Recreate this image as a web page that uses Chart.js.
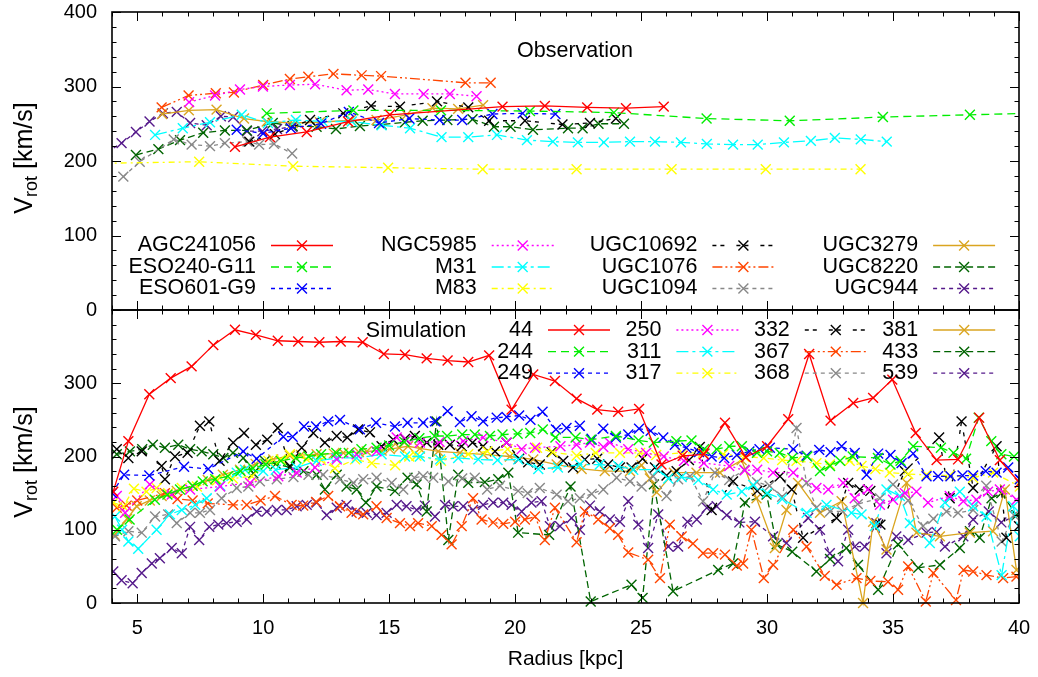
<!DOCTYPE html>
<html><head><meta charset="utf-8">
<script src="https://cdn.jsdelivr.net/npm/chart.js@4.4.1/dist/chart.umd.min.js"></script>
<style>
html,body{margin:0;padding:0;background:#fff;}
#wrap{position:relative;width:1038px;height:677px;background:#fff;}
canvas{position:absolute;left:0;top:0;}
</style></head><body>
<div id="wrap"><canvas id="cTop" width="1038" height="677"></canvas><canvas id="cBot" width="1038" height="677"></canvas></div>
<script>
// ---------- tick labels ----------
const xTicks = [5,10,15,20,25,30,35,40];
const yTicksTop = [0,100,200,300,400];
const yTicksBot = [0,100,200,300];

// ---------- legend labels ----------
const obsLabels = ['AGC241056','ESO240-G11','ESO601-G9','NGC5985','M31','M83','UGC10692','UGC1076','UGC1094','UGC3279','UGC8220','UGC944'];
const simLabels = ['44','244','249','250','311','317','332','367','368','381','433','539'];

// ---------- observation data [radius kpc, Vrot km/s] ----------
const obsAGC241056 = [[8.88,219],[10.27,232],[11.73,239],[13.37,253],[15.03,262],[19.5,273],[21.18,274],[22.86,272],[24.4,271],[25.9,273]];
const obsESO240G11 = [[10.14,264],[13.58,268],[17.06,268],[20.59,267],[23.92,265],[27.6,257],[30.9,254],[34.6,259],[38.05,262],[41.5,265]];
const obsESO601G9 = [[8.95,242],[10.0,237],[11.1,244],[12.3,250],[13.4,266],[14.6,251],[15.8,257],[17.0,255],[17.9,255],[19.1,263],[20.3,264],[21.6,263]];
const obsNGC5985 = [[7.06,279],[8.09,288],[9.08,296],[9.99,300],[11.06,302],[12.06,303],[13.31,295],[14.17,296],[15.23,290],[16.37,290],[17.41,290],[18.47,287]];
const obsM31 = [[5.71,235],[6.81,244],[7.89,252],[9.15,262],[10.19,251],[11.3,255],[12.37,253],[13.52,253],[14.7,248],[15.83,244],[17.08,232],[18.14,232],[19.28,235],[20.47,228],[21.5,226],[22.49,225],[23.52,225],[24.56,226],[25.55,226],[26.58,225],[27.61,223],[28.65,222],[29.63,222],[30.67,225],[31.74,227],[32.69,231],[33.72,229],[34.75,226]];
const obsM83 = [[3.71,197],[7.46,199],[11.19,193],[14.96,191],[18.71,189],[22.44,189],[26.21,189],[29.95,189],[33.71,189]];
const obsUGC10692 = [[9.45,226],[10.47,236],[11.86,255],[13.18,264],[14.28,274],[15.43,273],[16.9,280],[18.14,272],[18.97,254],[20.39,254],[21.88,249],[22.97,251],[24.0,257]];
const obsUGC1076 = [[5.97,272],[7.04,288],[8.12,291],[8.84,292],[10.0,302],[11.06,310],[11.79,313],[12.79,317],[13.91,315],[14.68,314],[18.03,305],[19.03,305]];
const obsUGC1094 = [[4.45,179],[5.1,199],[6.45,229],[7.16,222],[7.89,220],[8.48,224],[9.38,226],[9.84,222],[10.43,223],[11.15,210]];
const obsUGC3279 = [[5.99,263],[7.05,268],[8.15,269],[9.24,257],[10.14,253],[11.17,251],[12.25,252],[13.48,255],[14.5,255],[15.69,262],[16.72,271],[17.74,270],[18.73,275]];
const obsUGC8220 = [[4.95,208],[5.84,216],[6.7,228],[7.62,238],[8.48,241],[9.35,241],[10.38,251],[11.17,247],[12.12,246],[12.89,243],[13.84,247],[14.7,249],[15.63,252],[16.33,254],[17.31,255],[18.31,256],[19.16,246],[19.82,246],[20.71,242],[22.1,244],[22.68,244],[23.31,250],[24.32,250]];
const obsUGC944 = [[3.8,212],[4.38,224],[4.95,239],[5.49,253],[6.02,264],[6.57,266],[7.1,251],[7.76,248],[8.32,260],[8.81,259],[9.36,240],[9.97,240],[10.55,243],[11.16,246]];

// ---------- simulation data [radius kpc, Vrot km/s] ----------
const sim44 = [[4.05,152],[4.65,221],[5.48,285],[6.33,307],[7.16,323],[8.02,352],[8.88,373],[9.71,366],[10.58,358],[11.39,357],[12.23,356],[13.08,357],[13.95,356],[14.79,340],[15.63,339],[16.49,334],[17.32,331],[18.14,329],[18.97,338],[19.86,264],[20.72,312],[21.58,303],[22.44,279],[23.26,264],[24.09,261],[24.92,265],[25.81,189],[26.65,201],[27.49,203],[28.33,246],[29.16,199],[30.0,214],[30.84,251],[31.67,340],[32.52,249],[33.42,273],[34.21,280],[34.97,305],[35.9,232],[36.73,195],[37.58,196],[38.42,253],[39.24,195],[40.03,164]];
const sim244 = [[4.2,100],[4.7,114],[5.7,141],[6.2,148],[6.7,155],[7.2,160],[7.6,166],[8.1,169],[8.6,173],[9.1,180],[9.6,184],[10.1,189],[10.7,194],[11.3,198],[11.8,200],[12.3,203],[12.9,205],[13.4,205],[13.9,210],[14.5,212],[15.0,215],[15.6,220],[16.2,225],[16.8,228],[17.3,228],[17.9,230],[18.4,230],[19.0,228],[19.5,230],[20.1,231],[20.6,232],[21.1,237],[21.6,226],[22.4,226],[23.0,223],[24.0,228],[24.9,222],[25.5,219],[26.4,221],[27.0,222],[27.5,210],[28.0,210],[28.5,214],[29.0,214],[29.6,205],[30.0,207],[30.5,205],[31.0,198],[31.6,200],[32.1,180],[32.5,187],[32.9,194],[33.4,200],[34.4,198],[34.9,189],[35.3,194],[35.8,214],[36.9,212],[37.4,205],[37.9,197],[38.4,253],[38.9,221],[39.3,203],[39.8,200]];
const sim249 = [[4.0,150],[4.48,175],[5.48,174],[6.86,186],[7.82,183],[9.21,207],[9.74,197],[10.8,227],[11.17,227],[11.62,241],[12.1,241],[12.58,248],[13.05,250],[13.84,237],[14.48,246],[15.23,241],[15.73,246],[16.35,246],[16.82,248],[17.32,262],[17.81,247],[18.27,255],[18.73,248],[19.27,253],[19.66,254],[20.16,256],[20.61,250],[21.09,261],[21.62,237],[22.04,239],[22.57,242],[23.04,223],[23.5,238],[24.0,226],[24.49,230],[24.92,238],[25.38,235],[25.88,226],[26.34,216],[26.8,212],[27.3,206],[27.8,200],[28.3,198],[28.8,202],[29.3,207],[29.7,210],[30.11,212],[31.04,210],[31.57,201],[32.07,209],[32.52,206],[32.96,214],[33.48,205],[33.95,175],[34.41,204],[34.9,202],[35.34,191],[35.8,204],[36.33,173],[36.79,173],[37.28,173],[37.76,174],[38.18,174],[38.68,180],[39.11,178],[39.57,185],[40.03,169]];
const sim250 = [[4.19,146],[4.52,123],[5.5,162],[6.37,148],[7.1,155],[8.29,159],[9.48,164],[10.6,173],[11.33,178],[12.06,185],[12.92,196],[13.71,203],[14.5,207],[15.3,226],[15.69,223],[16.22,219],[17.0,220],[17.94,221],[18.73,226],[19.66,219],[20.26,210],[20.79,212],[21.8,214],[22.44,216],[22.97,219],[23.5,213],[23.76,219],[24.49,210],[25.2,205],[25.9,200],[26.7,194],[27.49,191],[28.5,187],[29.12,181],[29.61,182],[30.24,178],[31.04,178],[31.96,157],[32.43,155],[33.02,164],[33.48,143],[34.0,155],[34.48,134],[35.0,141],[35.47,150],[35.93,152],[36.39,137],[37.25,146],[37.79,139],[38.31,141],[38.77,152],[39.24,155],[39.9,141]];
const sim311 = [[4.12,118],[4.4,100],[4.65,84],[5.04,74],[5.77,100],[6.3,121],[6.77,127],[7.3,134],[7.76,143],[8.3,160],[8.95,178],[9.28,182],[10.0,180],[10.5,182],[11.33,185],[12.12,194],[12.92,198],[13.71,198],[14.7,203],[15.63,200],[16.22,200],[17.02,196],[17.74,198],[18.54,196],[19.3,195],[20.12,196],[20.92,183],[21.7,185],[22.57,189],[23.36,189],[24.09,187],[24.69,182],[25.68,182],[26.08,170],[26.61,172],[27.27,168],[27.86,155],[28.4,148],[29.0,152],[29.45,161],[30.0,150],[30.6,142],[31.57,123],[32.36,134],[33.35,123],[33.75,121],[34.28,105],[34.74,155],[35.27,146],[35.67,109],[36.46,82],[37.06,137],[37.65,152],[38.18,132],[38.71,118],[39.31,38],[39.77,132],[40.03,91]];
const sim317 = [[4.05,137],[4.45,132],[4.87,156],[5.37,152],[5.77,157],[6.23,150],[6.77,157],[7.37,159],[8.18,168],[8.8,170],[9.55,173],[10.21,194],[10.7,196],[11.06,203],[11.73,196],[12.3,195],[12.85,184],[13.65,196],[14.31,191],[15.24,188],[15.8,200],[16.08,201],[17.06,194],[18.14,203],[18.9,207],[19.7,210],[20.87,212],[21.5,206],[22.44,201],[23.2,205],[24.16,205],[24.96,205],[25.6,202],[26.64,205],[27.46,205],[28.26,203],[29.09,200],[29.87,198],[30.6,195],[31.17,194],[31.96,191],[32.49,189],[33.28,194],[33.75,187],[34.3,183],[34.87,178],[35.6,176],[36.33,175],[37.25,174],[38.18,171],[38.97,178],[40.03,159]];
const sim332 = [[4.19,210],[4.65,198],[5.18,207],[5.97,187],[6.1,169],[6.5,200],[7.0,205],[7.49,242],[7.86,248],[8.27,194],[8.81,219],[9.24,232],[9.71,216],[10.16,223],[10.58,239],[11.06,187],[11.53,212],[11.99,232],[12.45,219],[12.92,228],[13.34,226],[13.77,237],[14.24,233],[14.7,214],[15.16,223],[15.63,224],[16.02,228],[16.49,219],[16.95,216],[17.41,216],[17.88,214],[18.31,219],[18.73,214],[19.2,207],[19.66,219],[20.16,197],[20.52,192],[20.98,189],[21.45,206],[21.91,194],[22.3,185],[22.77,196],[23.26,197],[23.69,189],[24.16,185],[24.62,185],[25.06,197],[25.55,185],[26.01,174],[26.41,180],[26.9,195],[27.33,213],[27.8,127],[28.65,166],[29.61,153],[30.51,173],[30.98,155],[31.43,89],[32.76,116],[33.22,164],[33.68,155],[34.1,153],[34.5,107],[35.47,180],[36.83,226],[37.25,143],[37.72,248],[38.18,157],[39.11,214],[39.5,89],[40.0,105]];
const sim367 = [[4.19,130],[4.58,133],[5.0,140],[6.1,150],[6.6,142],[7.2,140],[7.8,136],[8.81,134],[9.35,134],[9.9,140],[10.47,146],[11.13,134],[11.59,133],[12.1,138],[12.58,146],[13.05,132],[13.51,123],[13.97,121],[14.5,132],[14.9,116],[15.43,109],[15.83,105],[16.15,109],[16.69,105],[17.08,93],[17.48,80],[17.88,105],[18.33,143],[18.67,114],[19.13,110],[19.53,108],[20.0,111],[20.39,114],[20.79,118],[21.18,86],[21.58,130],[22.44,83],[22.77,125],[23.3,114],[23.76,102],[24.09,93],[24.49,69],[25.28,59],[25.75,34],[26.14,107],[26.61,91],[27.06,81],[27.46,68],[27.86,68],[28.33,66],[28.8,51],[29.05,54],[29.38,100],[29.87,34],[30.24,52],[31.04,100],[31.57,77],[32.29,37],[32.76,25],[33.55,34],[34.1,30],[34.8,29],[35.2,18],[35.6,50],[36.3,2],[36.6,41],[37.5,4],[37.8,45],[38.18,43],[38.71,38],[39.37,34],[39.9,36]];
const sim368 = [[4.12,91],[4.65,98],[5.18,96],[5.71,118],[6.23,121],[6.57,109],[7.1,123],[7.49,123],[7.89,127],[8.35,143],[8.95,157],[9.41,159],[9.87,166],[10.54,169],[11.2,172],[11.8,175],[12.38,175],[13.05,169],[13.58,164],[13.97,169],[14.5,171],[15.1,164],[15.56,155],[16.0,171],[16.35,173],[16.75,171],[17.35,166],[17.9,170],[18.4,171],[18.89,155],[19.4,160],[20.12,153],[20.5,150],[20.98,157],[21.65,148],[22.1,139],[22.57,143],[23.04,149],[23.5,155],[24.03,171],[24.56,166],[25.02,159],[25.48,173],[26.01,146],[26.47,169],[26.94,173],[27.46,139],[27.93,178],[28.5,168],[29.1,182],[29.6,165],[30.1,160],[30.6,145],[31.17,239],[31.57,164],[31.96,130],[32.5,125],[33.0,125],[33.6,135],[34.48,143],[35.0,162],[35.6,140],[36.19,105],[36.6,115],[37.12,125],[37.58,123],[38.18,127],[38.7,160],[39.31,84],[39.8,120]];
const sim381 = [[4.1,93],[4.6,115],[4.98,132],[5.5,140],[5.97,146],[6.57,153],[7.2,160],[7.8,168],[8.4,175],[9.08,182],[9.7,190],[10.4,196],[11.06,201],[11.5,202],[12.12,203],[12.8,204],[13.18,205],[13.8,206],[14.11,207],[14.7,208],[15.03,210],[15.4,212],[15.75,214],[16.22,211],[16.95,207],[17.81,205],[18.73,203],[19.79,200],[20.72,196],[21.65,189],[22.64,183],[23.56,180],[24.56,180],[25.02,188],[25.35,170],[25.62,151],[26.3,178],[27.2,178],[28.13,178],[28.99,195],[29.58,143],[30.31,75],[30.77,127],[31.23,164],[32.1,123],[32.96,139],[33.81,0],[34.21,111],[34.74,73],[35.54,164],[35.93,96],[36.86,91],[38.05,96],[38.97,98],[39.44,155],[39.9,45]];
const sim433 = [[4.19,203],[4.71,207],[5.2,210],[5.62,216],[6.1,212],[6.63,216],[7.1,210],[7.56,207],[8.02,203],[8.42,198],[8.8,205],[9.21,198],[9.61,177],[10.07,194],[10.5,190],[11.06,185],[11.6,180],[12.12,175],[12.45,155],[12.92,175],[13.31,159],[13.71,155],[14.08,137],[14.5,159],[15.23,153],[15.73,171],[16.09,162],[16.49,125],[16.88,248],[17.35,86],[17.74,175],[18.14,164],[18.8,165],[19.33,169],[19.73,178],[20.12,96],[21.35,93],[22.2,159],[23.0,2],[24.62,25],[25.06,7],[25.51,162],[26.27,16],[28.06,45],[28.65,54],[29.12,137],[29.98,148],[30.38,80],[31.0,70],[31.96,43],[32.5,60],[33.15,75],[33.61,52],[34.41,18],[35.2,80],[36.0,48],[36.86,52],[37.65,75],[38.05,98],[38.44,89],[38.91,143],[39.3,150],[39.9,120]];
const sim539 = [[4.05,43],[4.38,31],[4.82,27],[5.18,41],[5.58,54],[5.9,61],[6.37,75],[6.77,68],[7.1,104],[7.46,86],[7.86,104],[8.22,107],[8.55,109],[8.95,111],[9.35,114],[9.74,125],[10.14,125],[10.54,127],[10.93,127],[11.33,132],[11.73,134],[12.12,137],[12.52,120],[12.92,130],[13.31,134],[13.71,125],[14.11,123],[14.5,120],[14.9,123],[15.3,134],[15.69,132],[16.09,127],[16.42,133],[16.82,118],[17.22,134],[17.54,132],[17.94,132],[18.33,127],[18.73,134],[19.13,137],[19.53,137],[19.86,134],[20.26,125],[20.65,137],[21.05,139],[21.38,105],[21.78,105],[22.24,116],[22.57,100],[22.97,133],[23.36,125],[23.76,114],[24.16,111],[24.49,139],[24.89,107],[25.28,75],[25.68,121],[26.08,77],[26.47,77],[26.84,111],[27.21,114],[27.61,130],[28.0,132],[28.4,120],[28.9,110],[29.52,111],[30.24,91],[30.77,82],[31.63,116],[32.1,100],[32.49,68],[32.82,57],[33.22,100],[33.48,77],[33.88,77],[34.34,109],[34.74,68],[35.13,91],[35.6,86],[36.33,96],[36.73,97],[37.06,77],[37.79,91],[38.18,114],[38.8,125],[39.3,110],[39.9,120]];

const obsSeries = [obsAGC241056,obsESO240G11,obsESO601G9,obsNGC5985,obsM31,obsM83,obsUGC10692,obsUGC1076,obsUGC1094,obsUGC3279,obsUGC8220,obsUGC944];
const simSeries = [sim44,sim244,sim249,sim250,sim311,sim317,sim332,sim367,sim368,sim381,sim433,sim539];

// ---------- styles (gnuplot line types 1..12) ----------
const styleColors = ['#ff0000','#00ee00','#0000ff','#ff00ff','#00ffff','#ffff00','#000000','#ff4500','#888888','#daa520','#006400','#551a8b'];
const styleDashes = [[],[8,5],[4,4],[2,3],[12,4,3,4],[6,4,2,4],[4,4,4,12],[10,3,2,3,2,3],[4,4],[],[7,4],[4,4]];

const FONT = '"Liberation Sans", Arial, sans-serif';
Chart.defaults.font.family = FONT;
Chart.defaults.color = '#000';

function makeDatasets(labels, series, clipBottom){
  return labels.map((lab,i)=>({
    label: lab,
    data: series[i].map(p=>({x:p[0],y:p[1]})),
    borderColor: styleColors[i],
    backgroundColor: styleColors[i],
    borderDash: styleDashes[i],
    borderWidth: 1.3,
    pointStyle: 'crossRot',
    pointRadius: 7,
    pointBorderWidth: 1.4,
    pointHoverRadius: 7,
    tension: 0,
    fill: false,
    clip: {left:0, right:0, top:0, bottom:clipBottom}
  }));
}

function noScalePad(s){ s.paddingTop = 0; s.paddingBottom = 0; s.paddingLeft = 0; s.paddingRight = 0; }

const panelPlugin = {
  id: 'panel',
  afterDatasetsDraw(chart, args, o){
    const ctx = chart.ctx, a = chart.chartArea, x = chart.scales.x, y = chart.scales.y;
    ctx.save();
    // ticks (inward, all sides)
    ctx.strokeStyle = '#000'; ctx.lineWidth = 1; ctx.setLineDash([]);
    ctx.beginPath();
    for (let v = 4; v <= 40; v += 1){
      const p = Math.round(x.getPixelForValue(v)) + 0.5;
      const L = v % 5 === 0 ? 9 : 4.5;
      ctx.moveTo(p, a.bottom); ctx.lineTo(p, a.bottom - L);
      ctx.moveTo(p, a.top); ctx.lineTo(p, a.top + L);
    }
    for (let v = 0; v <= 400; v += 20){
      const p = Math.round(y.getPixelForValue(v)) + 0.5;
      const L = v % 100 === 0 ? 9 : 4.5;
      ctx.moveTo(a.left, p); ctx.lineTo(a.left + L, p);
      ctx.moveTo(a.right, p); ctx.lineTo(a.right - L, p);
    }
    ctx.stroke();
    ctx.lineWidth = 1.6;
    ctx.strokeRect(a.left, a.top, a.right - a.left, a.bottom - a.top);

    // y axis title with subscript
    ctx.save();
    ctx.translate(o.titleX, o.titleY); ctx.rotate(-Math.PI/2);
    const f1 = '25px ' + FONT, f2 = '18px ' + FONT;
    ctx.font = f1; const wV = ctx.measureText('V').width; const wR = ctx.measureText(' [km/s]').width;
    ctx.font = f2; const wS = ctx.measureText('rot').width;
    let sx = -(wV + wS + wR) / 2;
    ctx.fillStyle = '#000'; ctx.textAlign = 'left'; ctx.textBaseline = 'alphabetic';
    ctx.font = f1; ctx.fillText('V', sx, 9); sx += wV;
    ctx.font = f2; ctx.fillText('rot', sx, 14); sx += wS;
    ctx.font = f1; ctx.fillText(' [km/s]', sx, 9);
    ctx.restore();

    // key
    ctx.font = '21.5px ' + FONT; ctx.fillStyle = '#000';
    ctx.textAlign = 'center'; ctx.textBaseline = 'middle';
    ctx.fillText(o.keyTitle, o.keyTitleX, o.keyTitleY);
    ctx.textAlign = 'right';
    chart.data.datasets.forEach((ds, i) => {
      const col = Math.floor(i / 3), row = i % 3;
      const tx = o.keyX0 + col * o.keyDX, ty = o.keyY0 + row * o.keyDY;
      ctx.fillStyle = '#000';
      ctx.fillText(ds.label, tx, ty);
      const x1 = tx + 15, x2 = tx + 77, cx = (x1 + x2) / 2;
      ctx.strokeStyle = ds.borderColor; ctx.lineWidth = ds.borderWidth;
      ctx.setLineDash(ds.borderDash);
      ctx.beginPath(); ctx.moveTo(x1, ty); ctx.lineTo(x2, ty); ctx.stroke();
      ctx.setLineDash([]); ctx.lineWidth = ds.pointBorderWidth;
      const d = ds.pointRadius * Math.SQRT1_2;
      ctx.beginPath();
      ctx.moveTo(cx - d, ty - d); ctx.lineTo(cx + d, ty + d);
      ctx.moveTo(cx - d, ty + d); ctx.lineTo(cx + d, ty - d);
      ctx.stroke();
    });
    ctx.restore();
  }
};

const tickFont = {size: 20, family: FONT};

new Chart(document.getElementById('cTop'), {
  type: 'line',
  data: {datasets: makeDatasets(obsLabels, obsSeries, 0)},
  options: {
    responsive: false, animation: false, events: [],
    layout: {padding: {left: 0, right: 19, top: 12, bottom: 367}, autoPadding: false},
    plugins: {legend: {display: false}, tooltip: {enabled: false},
      panel: {titleX: 23, titleY: 158, keyTitle: 'Observation', keyTitleX: 575, keyTitleY: 51,
              keyX0: 256, keyDX: 220.7, keyY0: 245.5, keyDY: 21.5}},
    scales: {
      x: {type: 'linear', min: 4, max: 40, display: false},
      y: {type: 'linear', min: 0, max: 400,
          afterBuildTicks: s => { s.ticks = yTicksTop.map(v => ({value: v})); },
          afterFit: s => { s.width = 112; noScalePad(s); },
          ticks: {font: tickFont, color: '#000', padding: 15},
          grid: {display: false, drawTicks: false}, border: {display: false}}
    }
  },
  plugins: [panelPlugin]
});

new Chart(document.getElementById('cBot'), {
  type: 'line',
  data: {datasets: makeDatasets(simLabels, simSeries, 8)},
  options: {
    responsive: false, animation: false, events: [],
    layout: {padding: {left: 0, right: 19, top: 310, bottom: 0}, autoPadding: false},
    plugins: {legend: {display: false}, tooltip: {enabled: false},
      panel: {titleX: 23, titleY: 462, keyTitle: 'Simulation', keyTitleX: 416, keyTitleY: 331,
              keyX0: 533, keyDX: 128.4, keyY0: 330, keyDY: 21.6}},
    scales: {
      x: {type: 'linear', min: 4, max: 40,
          afterBuildTicks: s => { s.ticks = xTicks.map(v => ({value: v})); },
          afterFit: s => { s.height = 74; noScalePad(s); },
          ticks: {font: tickFont, color: '#000', padding: 13, maxRotation: 0, autoSkip: false},
          grid: {display: false, drawTicks: false}, border: {display: false},
          title: {display: true, text: 'Radius [kpc]', color: '#000', font: {size: 21, family: FONT}, padding: {top: 0, bottom: 5}}},
      y: {type: 'linear', min: 0, max: 400,
          afterBuildTicks: s => { s.ticks = yTicksBot.map(v => ({value: v})); },
          afterFit: s => { s.width = 112; noScalePad(s); },
          ticks: {font: tickFont, color: '#000', padding: 15},
          grid: {display: false, drawTicks: false}, border: {display: false}}
    }
  },
  plugins: [panelPlugin]
});
</script>
</body></html>
